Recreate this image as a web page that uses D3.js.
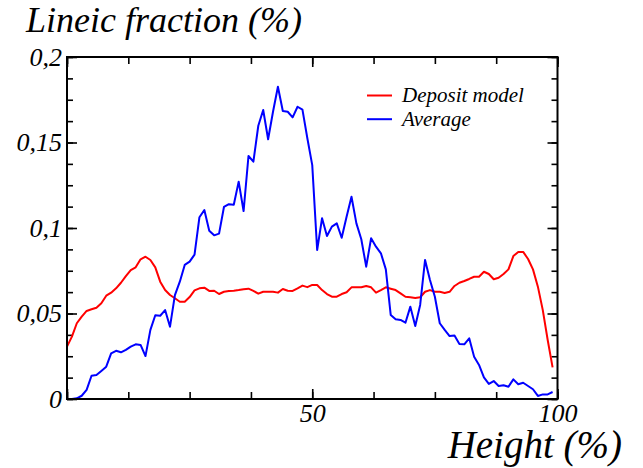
<!DOCTYPE html>
<html>
<head>
<meta charset="utf-8">
<script src="https://cdn.jsdelivr.net/npm/d3@7"></script>
<style>
  html, body { margin: 0; padding: 0; background: #fff; }
  svg { display: block; }
  text { font-family: "Liberation Serif", "Times New Roman", serif; font-style: italic; }
</style>
</head>
<body>
<svg id="chart" width="643" height="468"></svg>
<script>
// ---- data ----
const heights = d3.range(0, 100);
const depositModel = [0.0306,0.0365,0.0443,0.0482,0.0515,0.0525,0.0534,0.056,0.0604,0.0622,
  0.0647,0.068,0.0719,0.0754,0.077,0.0817,0.0832,0.0813,0.077,0.0686,
  0.0637,0.0608,0.0589,0.0569,0.0569,0.0596,0.0635,0.0647,0.0651,0.0632,
  0.0633,0.0614,0.0627,0.0632,0.0633,0.0637,0.0642,0.0645,0.0632,0.0616,
  0.0627,0.0627,0.0627,0.0622,0.0643,0.0633,0.0632,0.0647,0.0663,0.0654,
  0.0667,0.0667,0.0637,0.0614,0.0598,0.0598,0.0614,0.0624,0.0653,0.0653,
  0.0653,0.0661,0.0653,0.0622,0.0637,0.0653,0.0645,0.0637,0.0618,0.0598,
  0.0595,0.0591,0.0595,0.0627,0.0637,0.0627,0.0627,0.062,0.0627,0.0661,
  0.068,0.069,0.0702,0.0715,0.0715,0.0744,0.0731,0.07,0.0709,0.0731,
  0.0758,0.0836,0.086,0.086,0.0819,0.0758,0.0657,0.052,0.0345,0.0185];
const average = [0,0,0.0004,0.0019,0.0053,0.0136,0.014,0.0164,0.0189,0.0267,
  0.0282,0.0273,0.0287,0.0306,0.032,0.0316,0.0251,0.0404,0.049,0.0487,
  0.052,0.0423,0.0608,0.0686,0.0784,0.0803,0.0844,0.1063,0.1105,0.0984,
  0.0957,0.0967,0.1123,0.1139,0.1136,0.1271,0.1099,0.1421,0.1388,0.1598,
  0.169,0.1519,0.168,0.1826,0.1684,0.168,0.1647,0.1709,0.1692,0.1525,
  0.1368,0.0871,0.1057,0.0953,0.1008,0.1027,0.0943,0.1066,0.1183,0.1027,
  0.0934,0.0774,0.094,0.0891,0.0852,0.0758,0.0491,0.0466,0.0462,0.0446,
  0.054,0.0427,0.055,0.0813,0.0696,0.0598,0.0443,0.0404,0.0368,0.0372,
  0.0322,0.032,0.0355,0.0247,0.0199,0.0127,0.0088,0.0105,0.0076,0.008,
  0.0072,0.0115,0.0086,0.0095,0.0076,0.0057,0.0018,0.0027,0.0027,0.0041];
const seriesNames = ["Deposit model", "Average"];
const seriesColors = ["#ff0000", "#0000ff"];
const yMajorTicks = [0, 0.05, 0.1, 0.15, 0.2];
const yMinorTicks = d3.range(0, 0.2001, 0.0125);
const xMajorTicks = [0, 50, 100];
const xLabelTicks = [50, 100];
const xMinorTicks = d3.range(0, 100.01, 12.5);
const yTitle = "Lineic fraction (%)";
const xTitle = "Height (%)";

// ---- layout ----
const svg = d3.select("#chart");
const L = 67, R = 557.5, T = 57, B = 399;
const x = d3.scaleLinear().domain([0, 100]).range([L, R]);
const y = d3.scaleLinear().domain([0, 0.2]).range([B, T]);
const fmtY = d => d === 0 ? "0" : String(d).replace(".", ",");

function styleAxis(g) {
  g.select(".domain").remove();
  g.selectAll(".tick line").attr("stroke", "#000").attr("stroke-width", 1.6);
  g.selectAll("text").attr("fill", "#000").style("font-size", "26px")
    .style("font-family", '"Liberation Serif", serif').style("font-style", "italic");
}

// minor ticks (all four sides)
svg.append("g").attr("transform", `translate(${L},0)`)
  .call(d3.axisLeft(y).tickValues(yMinorTicks).tickSize(-6).tickFormat("")).call(styleAxis);
svg.append("g").attr("transform", `translate(${R},0)`)
  .call(d3.axisRight(y).tickValues(yMinorTicks).tickSize(-6).tickFormat("")).call(styleAxis);
svg.append("g").attr("transform", `translate(0,${B})`)
  .call(d3.axisBottom(x).tickValues(xMinorTicks).tickSize(-7).tickFormat("")).call(styleAxis);
svg.append("g").attr("transform", `translate(0,${T})`)
  .call(d3.axisTop(x).tickValues(xMinorTicks).tickSize(-7).tickFormat("")).call(styleAxis);

// major ticks
svg.append("g").attr("transform", `translate(${L},0)`)
  .call(d3.axisLeft(y).tickValues(yMajorTicks).tickSize(-10).tickPadding(5).tickFormat(fmtY)).call(styleAxis);
svg.append("g").attr("transform", `translate(${R},0)`)
  .call(d3.axisRight(y).tickValues(yMajorTicks).tickSize(-10).tickFormat("")).call(styleAxis);
svg.append("g").attr("transform", `translate(0,${B})`)
  .call(d3.axisBottom(x).tickValues(xMajorTicks).tickSize(-10).tickPadding(5)
    .tickFormat(d => xLabelTicks.includes(d) ? String(d) : "")).call(styleAxis);
svg.append("g").attr("transform", `translate(0,${T})`)
  .call(d3.axisTop(x).tickValues(xMajorTicks).tickSize(-10).tickFormat("")).call(styleAxis);

// lines
const line = d3.line().x((d, i) => x(heights[i])).y(d => y(d));
[depositModel, average].forEach((s, k) => {
  svg.append("path").datum(s).attr("fill", "none")
    .attr("stroke", seriesColors[k]).attr("stroke-width", 2)
    .attr("stroke-linejoin", "round").attr("d", line);
});

// frame
svg.append("rect").attr("x", L).attr("y", T).attr("width", R - L).attr("height", B - T)
  .attr("fill", "none").attr("stroke", "#000").attr("stroke-width", 2);

// legend
seriesNames.forEach((n, k) => {
  const yy = 95.5 + k * 23.7;
  svg.append("line").attr("x1", 367).attr("x2", 392).attr("y1", yy).attr("y2", yy)
    .attr("stroke", seriesColors[k]).attr("stroke-width", 2);
  svg.append("text").attr("x", 402).attr("y", yy + 6.5).style("font-size", "21px")
    .attr("fill", "#000").text(n);
});

// titles
svg.append("text").attr("x", 26).attr("y", 31.5).style("font-size", "36px").attr("fill", "#000").text(yTitle);
svg.append("text").attr("x", 622).attr("y", 457.5).attr("text-anchor", "end")
  .style("font-size", "39px").attr("fill", "#000").text(xTitle);
</script>
</body>
</html>
